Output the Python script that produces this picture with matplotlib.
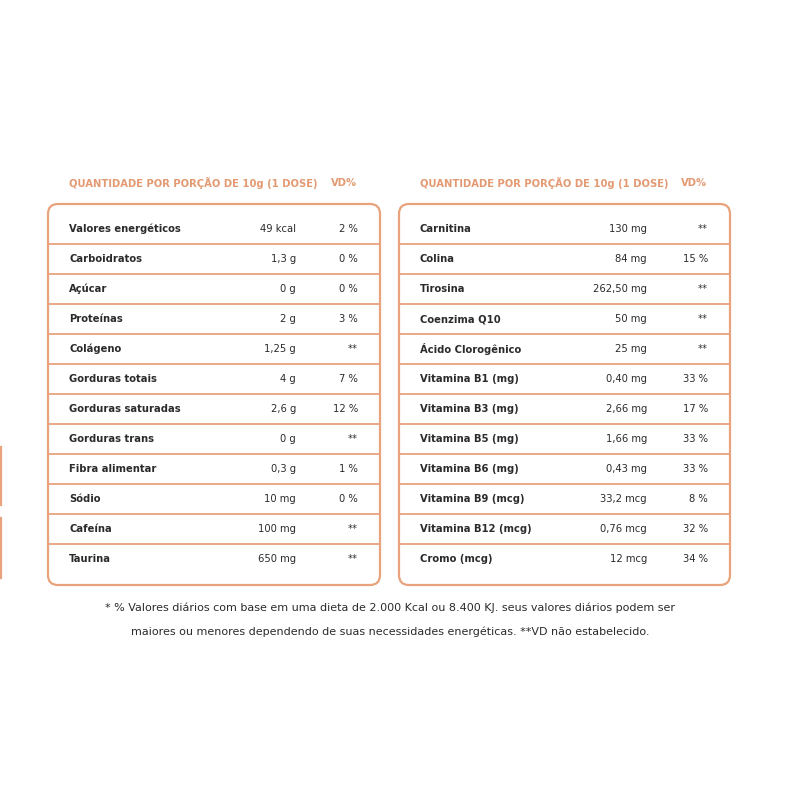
import matplotlib.pyplot as plt
from matplotlib.patches import FancyBboxPatch

ORANGE = '#e8a27c'
HEAD = '#e39a72'
TEXT = '#2b2b2b'

left_names = ['Valores energéticos', 'Carboidratos', 'Açúcar', 'Proteínas', 'Colágeno',
              'Gorduras totais', 'Gorduras saturadas', 'Gorduras trans', 'Fibra alimentar',
              'Sódio', 'Cafeína', 'Taurina']
left_values = ['49 kcal', '1,3 g', '0 g', '2 g', '1,25 g', '4 g', '2,6 g', '0 g', '0,3 g',
               '10 mg', '100 mg', '650 mg']
left_vd = ['2 %', '0 %', '0 %', '3 %', '**', '7 %', '12 %', '**', '1 %', '0 %', '**', '**']

right_names = ['Carnitina', 'Colina', 'Tirosina', 'Coenzima Q10', 'Ácido Clorogênico',
               'Vitamina B1 (mg)', 'Vitamina B3 (mg)', 'Vitamina B5 (mg)', 'Vitamina B6 (mg)',
               'Vitamina B9 (mcg)', 'Vitamina B12 (mcg)', 'Cromo (mcg)']
right_values = ['130 mg', '84 mg', '262,50 mg', '50 mg', '25 mg', '0,40 mg', '2,66 mg',
                '1,66 mg', '0,43 mg', '33,2 mcg', '0,76 mcg', '12 mcg']
right_vd = ['**', '15 %', '**', '**', '**', '33 %', '17 %', '33 %', '33 %', '8 %', '32 %', '34 %']

header = 'QUANTIDADE POR PORÇÃO DE 10g (1 DOSE)'
footnote = ['* % Valores diários com base em uma dieta de 2.000 Kcal ou 8.400 KJ. seus valores diários podem ser',
            'maiores ou menores dependendo de suas necessidades energéticas. **VD não estabelecido.']

fig = plt.figure(figsize=(8, 8), dpi=100)
ax = fig.add_axes([0, 0, 1, 1])
ax.set_xlim(0, 800)
ax.set_ylim(800, 0)
ax.axis('off')


def draw_table(x0, x1, names, values, vds):
    box = FancyBboxPatch((x0, 204), x1 - x0, 381, boxstyle='round,pad=0,rounding_size=10',
                         fc='white', ec=ORANGE, lw=1.6)
    ax.add_patch(box)
    ax.text(x0 + 21, 183, header, color=HEAD, fontsize=7.2, fontweight='bold', va='center')
    ax.text(x1 - 49, 183, 'VD%', color=HEAD, fontsize=7.2, fontweight='bold', va='center')
    for i, (n, v, d) in enumerate(zip(names, values, vds)):
        y = 229 + 30 * i
        ax.text(x0 + 21, y, n, color=TEXT, fontsize=7.2, fontweight='bold', va='center')
        ax.text(x0 + 248, y, v, color=TEXT, fontsize=7.2, va='center', ha='right')
        ax.text(x1 - 22, y, d, color=TEXT, fontsize=7.2, va='center', ha='right')
        if i < len(names) - 1:
            ax.plot([x0, x1], [y + 15, y + 15], color=ORANGE, lw=1.3)


draw_table(48, 380, left_names, left_values, left_vd)
draw_table(399, 730, right_names, right_values, right_vd)

# partial boxes at left edge
for ya, yb in [(447, 505), (518, 578)]:
    ax.plot([1, 1], [ya, yb], color=ORANGE, lw=1.6)

for j, line in enumerate(footnote):
    ax.text(390, 608 + 24 * j, line, color=TEXT, fontsize=8, ha='center', va='center')

fig.savefig('out.png', dpi=100, facecolor='white')
